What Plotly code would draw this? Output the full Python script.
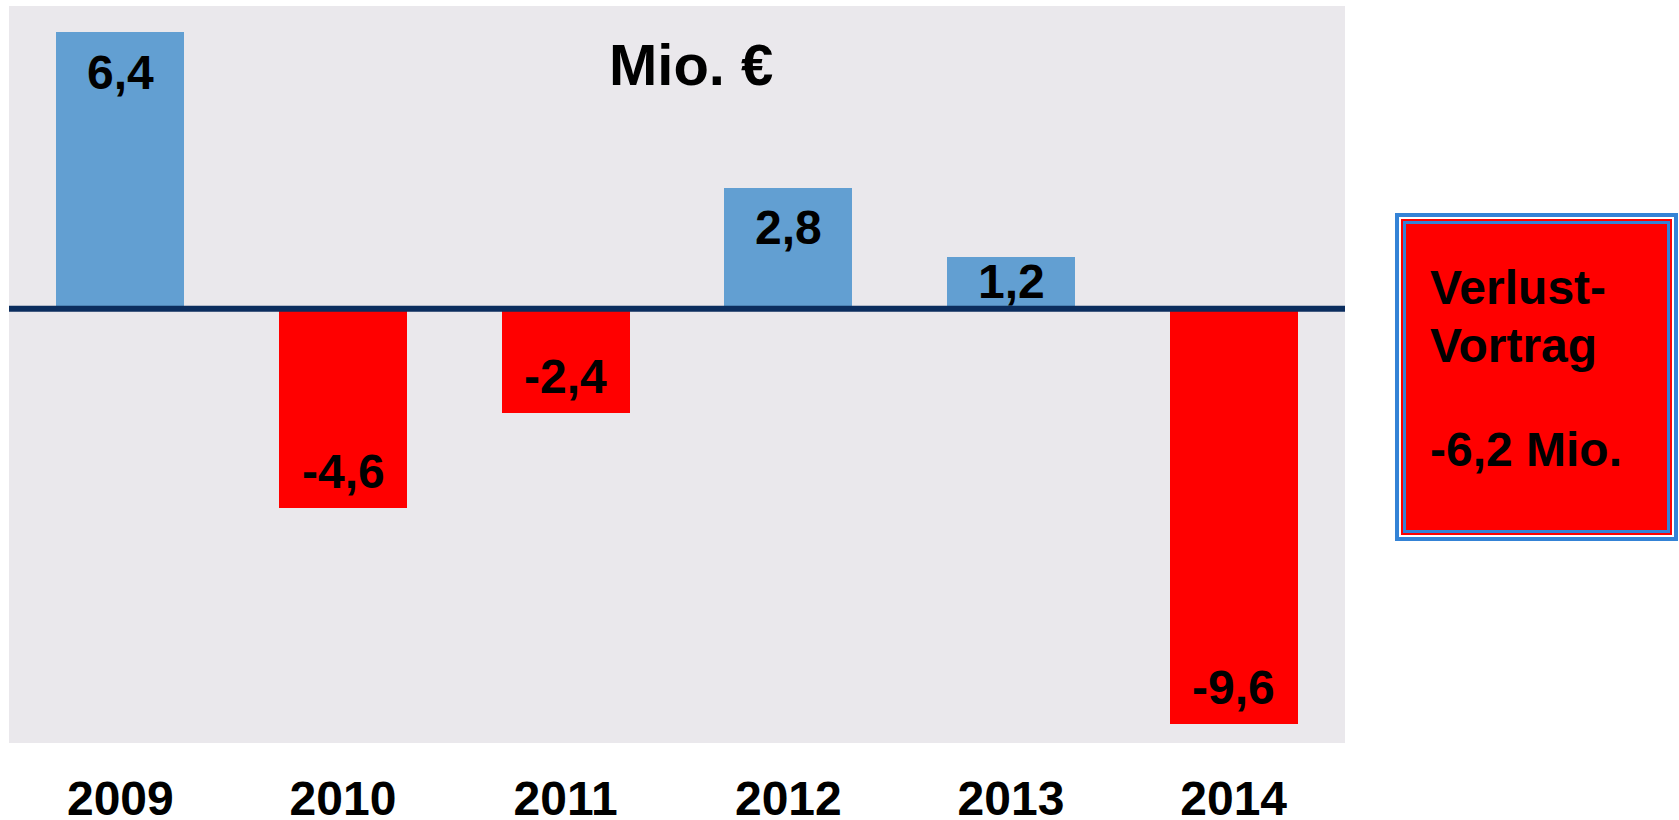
import plotly.graph_objects as go

years = ["2009", "2010", "2011", "2012", "2013", "2014"]
values = [6.4, -4.6, -2.4, 2.8, 1.2, -9.6]
unit_title = "Mio. €"
box_lines = ["Verlust-", "Vortrag", "-6,2 Mio."]

POS_COLOR = "#629FD2"
NEG_COLOR = "#FF0000"
BG = "#EAE8EC"
AXIS_COLOR = "#0B2D5E"
BOX_BLUE = "#3483D6"

W, H = 1679, 820
L, R, T, B = 9, 1679 - 1345, 6, 820 - 743
PW, PH = W - L - R, H - T - B
Y_RANGE = [-10.05, 7.01]
FONT = "Arial, 'Liberation Sans', Helvetica, sans-serif"


def px_x(p):
    return (p - L) / PW


def px_y(p):
    return (H - B - p) / PH


def fmt(v):
    return f"{v:.1f}".replace(".", ",")


colors = [POS_COLOR if v >= 0 else NEG_COLOR for v in values]

fig = go.Figure(
    go.Bar(
        x=years,
        y=values,
        marker=dict(color=colors, line=dict(width=0)),
        width=0.575,
        hoverinfo="skip",
    )
)

px_per_unit = PH / (Y_RANGE[1] - Y_RANGE[0])
annotations = []
for i, v in enumerate(values):
    bar_px = abs(v) * px_per_unit
    if v > 0:
        shift = -min(40, bar_px - 27)
    else:
        shift = min(36, bar_px - 27)
    annotations.append(
        dict(
            x=i, y=v, xref="x", yref="y", text=fmt(v), showarrow=False,
            xanchor="center", yanchor="middle", yshift=shift,
            font=dict(family=FONT, size=48, color="black", weight="bold"),
        )
    )

annotations.append(
    dict(
        x=px_x(691), y=px_y(65), xref="paper", yref="paper", text=unit_title,
        showarrow=False, xanchor="center", yanchor="middle",
        font=dict(family=FONT, size=58, color="black", weight="bold"),
    )
)

for line, cy in zip(box_lines, [287, 345, 449]):
    annotations.append(
        dict(
            x=px_x(1428), y=px_y(cy), xref="paper", yref="paper", text=line,
            showarrow=False, xanchor="left", yanchor="middle",
            font=dict(family=FONT, size=48, color="black", weight="bold"),
        )
    )

shapes = [
    dict(type="line", xref="paper", yref="y", x0=0, x1=1, y0=0, y1=0,
         line=dict(color=AXIS_COLOR, width=6), layer="above"),
]
box = (1395, 213, 1678, 541)
layers = [(0, BOX_BLUE), (4, "white"), (6, NEG_COLOR), (8, BOX_BLUE), (11, NEG_COLOR)]
for inset, col in layers:
    shapes.append(
        dict(type="rect", xref="paper", yref="paper",
             x0=px_x(box[0] + inset), x1=px_x(box[2] - inset),
             y0=px_y(box[3] - inset), y1=px_y(box[1] + inset),
             fillcolor=col, line=dict(width=0), layer="below")
    )

fig.update_layout(
    width=W, height=H,
    margin=dict(l=L, r=R, t=T, b=B, pad=0, autoexpand=False),
    paper_bgcolor="white",
    plot_bgcolor=BG,
    showlegend=False,
    bargap=0,
    annotations=annotations,
    shapes=shapes,
    xaxis=dict(
        type="category", automargin=False,
        range=[-0.5, 5.5], showgrid=False, zeroline=False, showline=False,
        ticks="", ticklabelstandoff=23,
        tickfont=dict(family=FONT, size=48, color="black", weight="bold"),
    ),
    yaxis=dict(
        automargin=False,
        range=Y_RANGE, showgrid=False, zeroline=False, showline=False,
        showticklabels=False, ticks="",
    ),
)

fig.write_html(
    "out.html",
    config={"displayModeBar": False},
    post_script="document.body.style.margin='0';document.body.style.overflow='hidden';",
)
